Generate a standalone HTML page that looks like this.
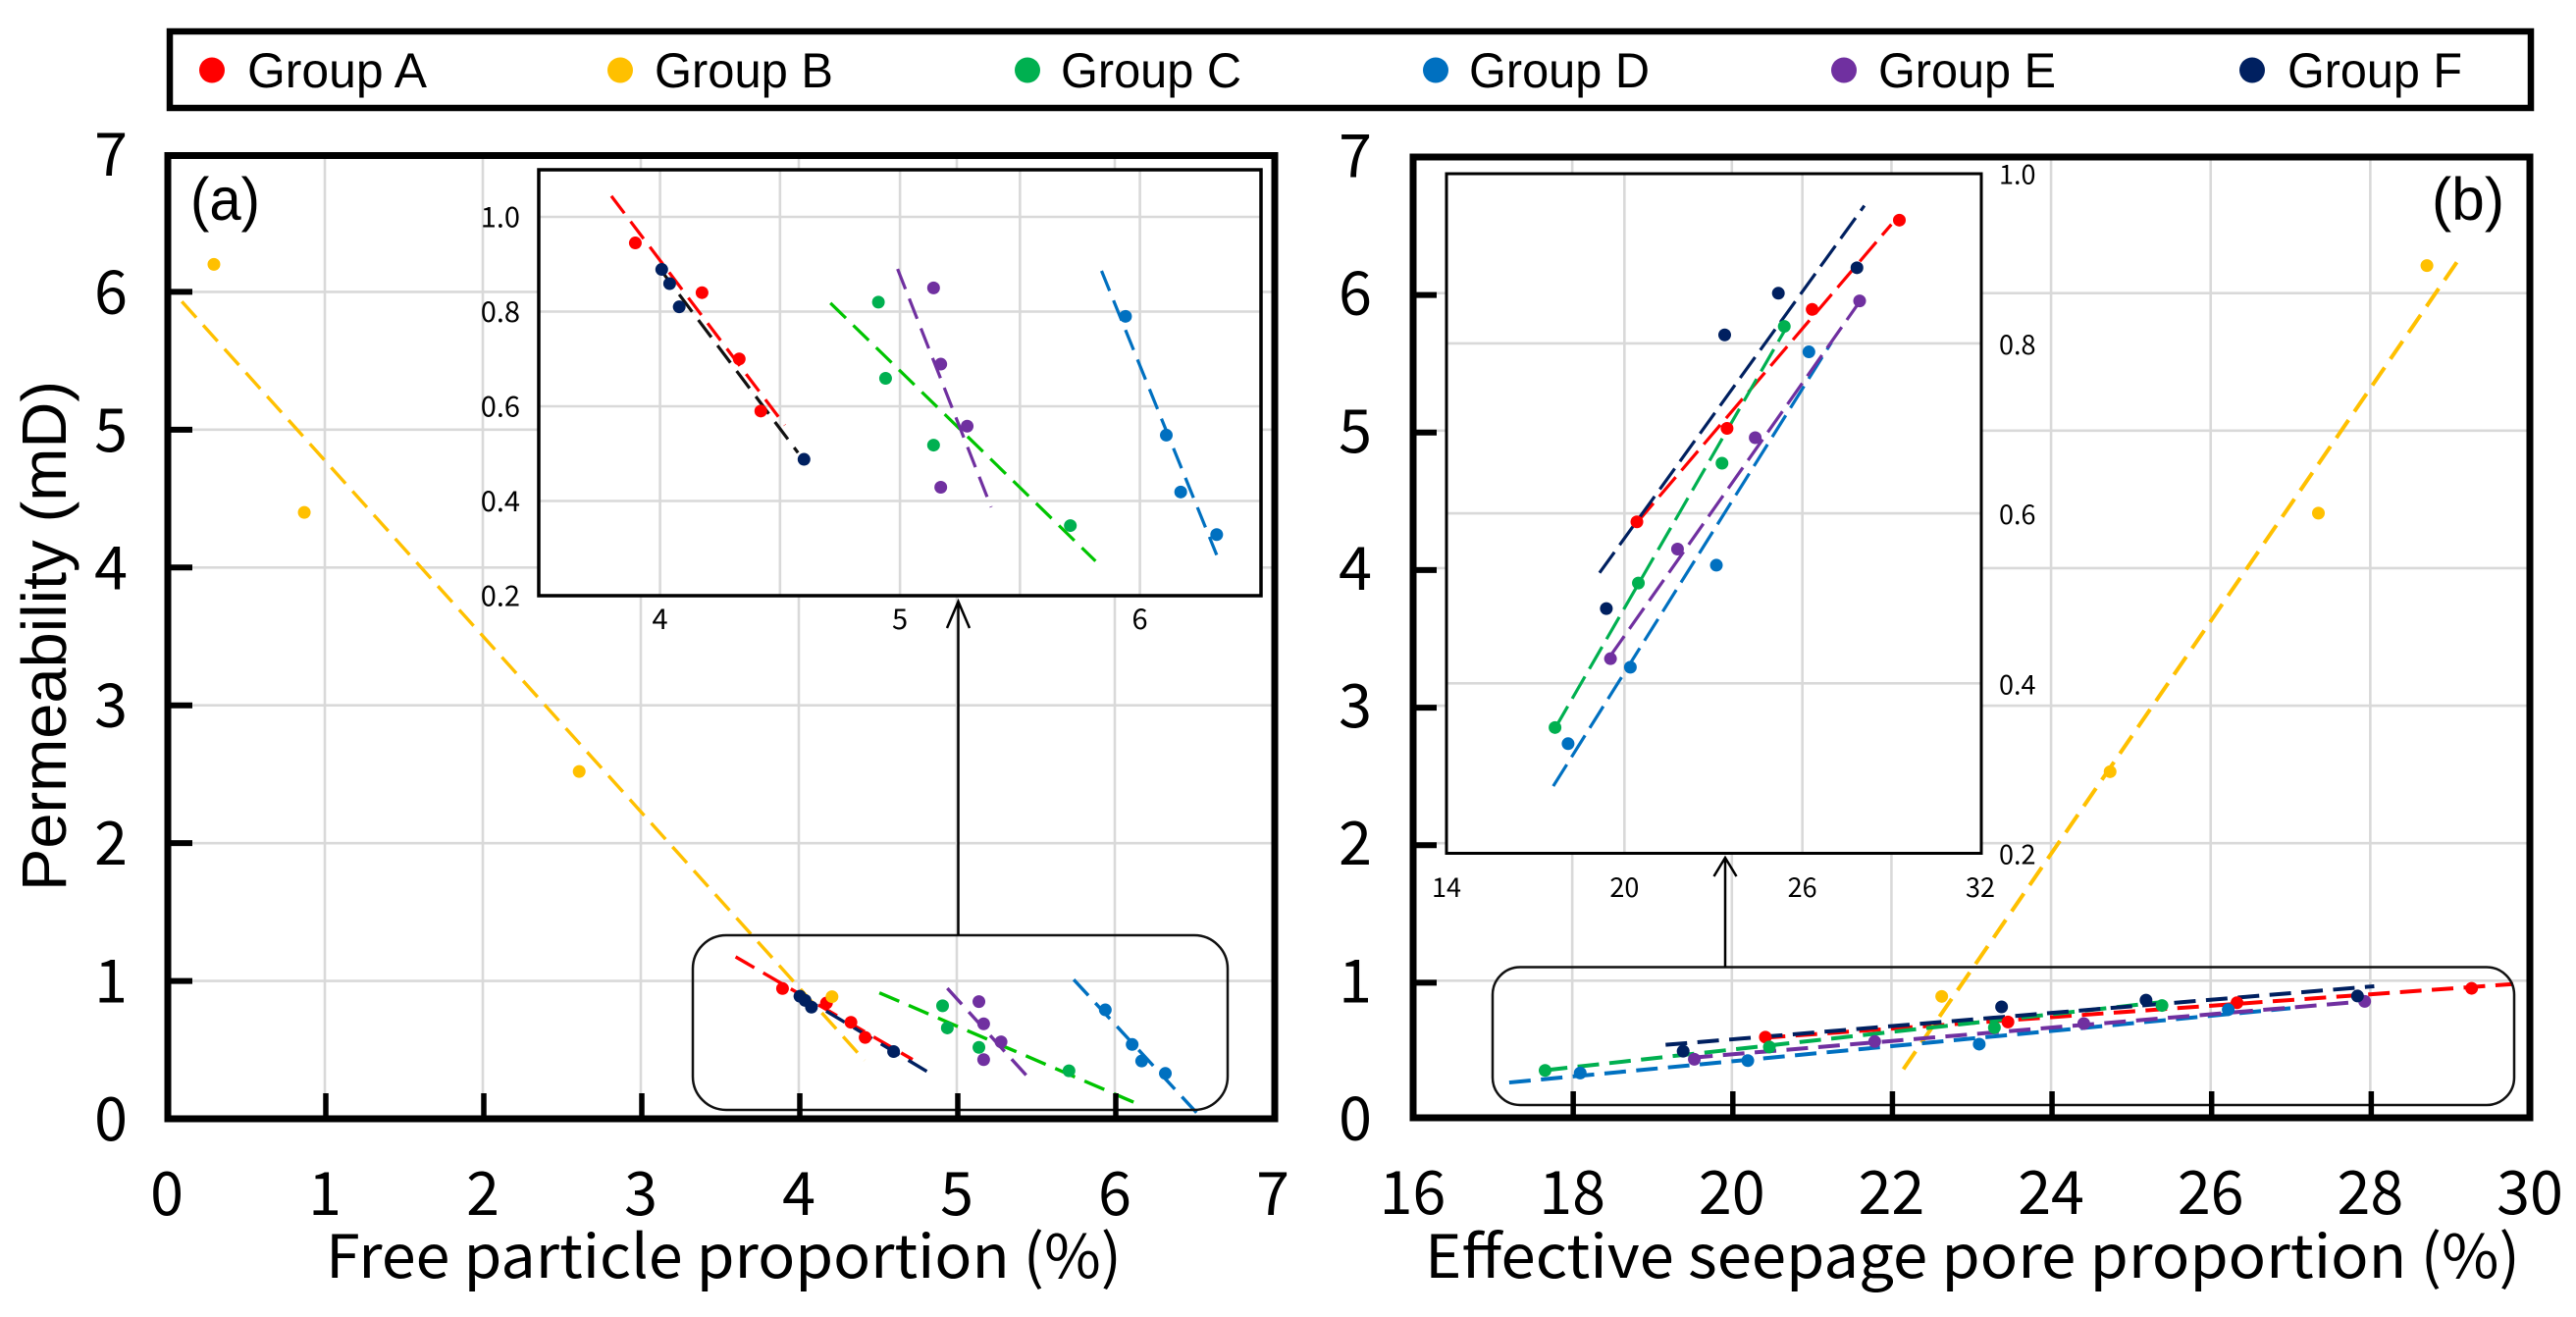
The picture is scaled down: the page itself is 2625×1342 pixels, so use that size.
<!DOCTYPE html>
<html lang="en">
<head>
<meta charset="utf-8">
<title>Permeability vs free particle and effective seepage pore proportion</title>
<style>
html,body{margin:0;padding:0;background:#fff;}
svg{display:block;}
.cjk{font-family:"Liberation Sans","Noto Sans CJK SC",sans-serif;}
.yh{font-family:"Noto Sans CJK SC","Liberation Sans",sans-serif;}
.ar{font-family:"Liberation Sans",sans-serif;}
</style>
</head>
<body>
<svg id="chart" xmlns="http://www.w3.org/2000/svg" width="2625" height="1342" viewBox="0 0 2625 1342">
  <rect x="0" y="0" width="2625" height="1342" fill="#ffffff"/>
  <g id="gridMainA"></g>
  <g id="gridMainB"></g>

  <g id="marksMainA"></g>
  <g id="marksMainB"></g>

  <rect x="706" y="953" width="545" height="178" rx="34" ry="34" fill="none" stroke="#111" stroke-width="2.5"/>
  <rect x="1521" y="985.5" width="1041" height="140.5" rx="28" ry="28" fill="none" stroke="#111" stroke-width="2.5"/>

  <g fill="none" stroke="#000" stroke-width="2.5">
    <path d="M976.5 953 V613 M965 640 L976.5 613 L988 640"/>
  </g>
  <g fill="none" stroke="#000" stroke-width="2.5">
    <path d="M1758 985.5 V874 M1746.500 893 L1758 874 L1769.500 893"/>
  </g>

  <!-- inset a -->
  <rect x="549" y="173" width="736" height="434" fill="#ffffff"/>
  <g id="gridInsetA"></g>
  <g id="marksInsetA"></g>
  <rect x="549" y="173" width="736" height="434" fill="none" stroke="#000" stroke-width="3.500"/>

  <!-- inset b -->
  <rect x="1474" y="177" width="545" height="692.500" fill="#ffffff"/>
  <g id="gridInsetB"></g>
  <g id="marksInsetB"></g>
  <rect x="1474" y="177" width="545" height="692.500" fill="none" stroke="#000" stroke-width="3"/>

  <rect x="171" y="158.500" width="1128" height="981.500" fill="none" stroke="#000" stroke-width="7"/>
  <rect x="1440" y="160" width="1138" height="979" fill="none" stroke="#000" stroke-width="7"/>
  <g id="axesA"></g>
  <g id="axesB"></g>

  <text class="ar" x="194" y="224" font-size="61" textLength="71" lengthAdjust="spacingAndGlyphs" fill="#000">(a)</text>
  <text class="ar" x="2478" y="224" font-size="61" textLength="74" lengthAdjust="spacingAndGlyphs" fill="#000">(b)</text>

  <text class="ar" transform="translate(67,908) rotate(-90)" font-size="64" textLength="520" lengthAdjust="spacingAndGlyphs" fill="#000">Permeability (mD)</text>
  <text class="yh" x="332" y="1302" font-size="61" textLength="811" lengthAdjust="spacingAndGlyphs" fill="#000">Free particle proportion (%)</text>
  <text class="yh" x="1452" y="1302" font-size="61" textLength="1116" lengthAdjust="spacingAndGlyphs" fill="#000">Effective seepage pore proportion (%)</text>

  <g>
    <rect x="173" y="32" width="2406" height="78" fill="#fff" stroke="#000" stroke-width="6.500"/>
    <g><circle cx="216" cy="71.500" r="13" fill="#ff0000"/><text class="ar" x="252" y="89" font-size="50" textLength="183" lengthAdjust="spacingAndGlyphs">Group A</text></g>
    <g><circle cx="632" cy="71.500" r="13" fill="#ffc000"/><text class="ar" x="667" y="89" font-size="50" textLength="182" lengthAdjust="spacingAndGlyphs">Group B</text></g>
    <g><circle cx="1047" cy="71.500" r="13" fill="#00b050"/><text class="ar" x="1081" y="89" font-size="50" textLength="184" lengthAdjust="spacingAndGlyphs">Group C</text></g>
    <g><circle cx="1463" cy="71.500" r="13" fill="#0070c0"/><text class="ar" x="1497" y="89" font-size="50" textLength="184" lengthAdjust="spacingAndGlyphs">Group D</text></g>
    <g><circle cx="1879" cy="71.500" r="13" fill="#7030a0"/><text class="ar" x="1914" y="89" font-size="50" textLength="181" lengthAdjust="spacingAndGlyphs">Group E</text></g>
    <g><circle cx="2295" cy="71.500" r="13" fill="#002060"/><text class="ar" x="2331" y="89" font-size="50" textLength="178" lengthAdjust="spacingAndGlyphs">Group F</text></g>
  </g>
</svg>

<script>
// ---- categories ----
const groupNames = ['A', 'B', 'C', 'D', 'E', 'F'];

// ---- permeability (mD), per group ----
const permA = [0.945, 0.84, 0.70, 0.59];
const permB = [6.2, 4.4, 2.52, 0.886];
const permC = [0.82, 0.659, 0.518, 0.348];
const permD = [0.79, 0.539, 0.419, 0.329];
const permE = [0.85, 0.689, 0.558, 0.429];
const permF = [0.889, 0.859, 0.81, 0.488];

// ---- free particle proportion (%), per group ----
const freeA = [3.897, 4.175, 4.33, 4.42];
const freeB = [0.298, 0.87, 2.61, 4.21];
const freeC = [4.91, 4.94, 5.14, 5.71];
const freeD = [5.94, 6.11, 6.17, 6.32];
const freeE = [5.14, 5.17, 5.28, 5.17];
const freeF = [4.007, 4.04, 4.08, 4.6];

// ---- effective seepage pore proportion (%), per group ----
const seepA = [29.27, 26.33, 23.46, 20.42];
const seepB = [28.71, 27.35, 24.74, 22.63];
const seepC = [25.39, 23.29, 20.47, 17.66];
const seepD = [26.22, 23.1, 20.2, 18.1];
const seepE = [27.93, 24.41, 21.79, 19.53];
const seepF = [27.84, 25.19, 23.38, 19.39];

// ---- fitted trend end values, order A B C D E F ----
const trendFreeX0 = [3.6, 0.095, 4.51, 5.74, 4.94, 4.0];
const trendFreeX1 = [4.72, 4.416, 6.12, 6.525, 5.46, 4.86];
const trendFreeY0 = [1.175, 5.93, 0.914, 1.01, 0.947, 0.9];
const trendFreeY1 = [0.43, 0.424, 0.12, 0.035, 0.29, 0.31];

const trendSeepX0 = [20.4, 22.15, 17.67, 17.21, 19.49, 19.17];
const trendSeepX1 = [29.79, 29.15, 25.39, 27.0, 27.93, 28.05];
const trendSeepY0 = [0.585, 0.357, 0.35, 0.26, 0.44, 0.534];
const trendSeepY1 = [0.976, 6.28, 0.845, 0.8, 0.85, 0.96];

// inset trends (group B is not shown in the insets)
const insetFreeX0 = [3.797, null, 4.71, 5.84, 4.99, 4.0];
const insetFreeX1 = [4.52, null, 5.815, 6.32, 5.38, 4.575];
const insetFreeY0 = [1.044, null, 0.818, 0.886, 0.89, 0.89];
const insetFreeY1 = [0.56, null, 0.273, 0.286, 0.387, 0.502];

const insetSeepX0 = [20.42, null, 17.66, 17.6, 19.5, 19.16];
const insetSeepX1 = [29.0, null, 25.4, 26.98, 27.93, 28.09];
const insetSeepY0 = [0.589, null, 0.347, 0.279, 0.431, 0.53];
const insetSeepY1 = [0.94, null, 0.815, 0.801, 0.849, 0.962];

// ---- tick labels ----
const mainYTicks = [0, 1, 2, 3, 4, 5, 6, 7];
const freeXTicks = [0, 1, 2, 3, 4, 5, 6, 7];
const seepXTicks = [16, 18, 20, 22, 24, 26, 28, 30];
const insetFreeXTicks = [4, 5, 6];
const insetFreeXGrid = [4, 4.5, 5, 5.5, 6];
const insetFreeYTicks = ['0.2', '0.4', '0.6', '0.8', '1.0'];
const insetSeepXTicks = [14, 20, 26, 32];
const insetSeepYTicks = ['0.2', '0.4', '0.6', '0.8', '1.0'];

// ---- styling / helpers ----
const NS = 'http://www.w3.org/2000/svg';
const colors = { A: '#ff0000', B: '#ffc000', C: '#00b050', D: '#0070c0', E: '#7030a0', F: '#002060' };
const permByGroup = { A: permA, B: permB, C: permC, D: permD, E: permE, F: permF };
const freeByGroup = { A: freeA, B: freeB, C: freeC, D: freeD, E: freeE, F: freeF };
const seepByGroup = { A: seepA, B: seepB, C: seepC, D: seepD, E: seepE, F: seepF };

function scale(d0, d1, r0, r1) {
  return function (v) { return r0 + (v - d0) * (r1 - r0) / (d1 - d0); };
}
function node(parent, tag, attrs, text) {
  const el = document.createElementNS(NS, tag);
  for (const k in attrs) el.setAttribute(k, attrs[k]);
  if (text !== undefined) el.textContent = text;
  parent.appendChild(el);
  return el;
}
function drawGrid(parentId, xs, ys, xScale, yScale, box, width) {
  const g = document.getElementById(parentId);
  xs.forEach(function (v) {
    const el = node(g, 'line', { x1: xScale(v), x2: xScale(v), y1: box.top, y2: box.bottom, stroke: '#d9d9d9', 'stroke-width': width });
    
    
  });
  ys.forEach(function (v) {
    const el = node(g, 'line', { x1: box.left, x2: box.right, y1: yScale(v), y2: yScale(v), stroke: '#d9d9d9', 'stroke-width': width });
    
    
  });
}
function drawSeries(parentId, xByGroup, x0, x1, y0, y1, xScale, yScale, opt) {
  const g = document.getElementById(parentId);
  groupNames.forEach(function (name, i) {
    if (x0[i] === null) return;
    let col = colors[name];
    if (name === 'C' && opt.brightGreen) col = '#00c400';
    if (name === 'F' && opt.darkF) col = '#111111';
    const line = node(g, 'line', {
      x1: xScale(x0[i]), y1: yScale(y0[i]), x2: xScale(x1[i]), y2: yScale(y1[i]),
      stroke: col, 'stroke-width': opt.lineWidth, 'stroke-dasharray': opt.dash
    });
    
    
  });
  groupNames.forEach(function (name) {
    if (opt.skipB && name === 'B') return;
    const xs = xByGroup[name];
    const ys = permByGroup[name];
    xs.forEach(function (v, j) {
      const dot = node(g, 'circle', { cx: xScale(v), cy: yScale(ys[j]), r: opt.r, fill: colors[name] });
      
      
    });
  });
}
function label(parent, x, y, text, size, anchor, dataName) {
  const el = node(parent, 'text', { x: x, y: y, 'font-size': size, 'text-anchor': anchor, fill: '#000', class: 'yh' }, text);
  
  
  return el;
}
function drawTick(parent, x1, y1, x2, y2, width) {
  const el = node(parent, 'line', { x1: x1, y1: y1, x2: x2, y2: y2, stroke: '#000', 'stroke-width': width });
  
  
}

// ---- axis functions ----
const xFree = scale(0, 7, 170, 1297);
const yMainA = scale(0, 7, 1140, 157);
const xSeep = scale(16, 30, 1439.5, 2578);
const yMainB = scale(0, 7, 1139.5, 158.5);
const xInsetA = scale(4, 6, 672.6, 1161.6);
const yInsetA = scale(0.2, 1.0, 607, 221);
const xInsetB = scale(14, 32, 1474, 2018);
const yInsetB = scale(0.2, 1.0, 869.5, 176.7);

// ---- grids ----
drawGrid('gridMainA', freeXTicks.slice(1, 7), mainYTicks.slice(1, 7), xFree, yMainA, { left: 171, right: 1299, top: 158, bottom: 1140 }, 2.6);
drawGrid('gridMainB', seepXTicks.slice(1, 7), mainYTicks.slice(1, 7), xSeep, yMainB, { left: 1440, right: 2578, top: 160, bottom: 1139 }, 2.6);
drawGrid('gridInsetA', insetFreeXGrid, insetFreeYTicks.slice(1).map(Number), xInsetA, yInsetA, { left: 549, right: 1285, top: 173, bottom: 607 }, 2.6);
drawGrid('gridInsetB', insetSeepXTicks.slice(1, 3), insetSeepYTicks.slice(1, 4).map(Number), xInsetB, yInsetB, { left: 1474, right: 2019, top: 177, bottom: 869.5 }, 2.6);

// ---- series ----
drawSeries('marksMainA', freeByGroup, trendFreeX0, trendFreeX1, trendFreeY0, trendFreeY1, xFree, yMainA,
  { lineWidth: 3.4, dash: '22 10.5', r: 6.5, brightGreen: true });
drawSeries('marksMainB', seepByGroup, trendSeepX0, trendSeepX1, trendSeepY0, trendSeepY1, xSeep, yMainB,
  { lineWidth: 4, dash: '22 10.5', r: 6.5 });
drawSeries('marksInsetA', freeByGroup, insetFreeX0, insetFreeX1, insetFreeY0, insetFreeY1, xInsetA, yInsetA,
  { lineWidth: 3.2, dash: '22 10.5', r: 6.5, skipB: true, brightGreen: true, darkF: true });
drawSeries('marksInsetB', seepByGroup, insetSeepX0, insetSeepX1, insetSeepY0, insetSeepY1, xInsetB, yInsetB,
  { lineWidth: 3.2, dash: '26 9', r: 6.5, skipB: true });

// ---- axes: panel a ----
const axesA = document.getElementById('axesA');
mainYTicks.forEach(function (v) {
  label(axesA, 113, yMainA(v) + 22, String(v), 61, 'middle', 'panel-a-y-tick-label');
  if (v > 0 && v < 7) drawTick(axesA, 171, yMainA(v), 196, yMainA(v), 6);
});
freeXTicks.forEach(function (v) {
  label(axesA, xFree(v), 1238, String(v), 61, 'middle', 'panel-a-x-tick-label');
  if (v > 0 && v < 7) drawTick(axesA, xFree(v) + 1, 1114, xFree(v) + 1, 1140, 5.5);
});
insetFreeXTicks.forEach(function (v) {
  label(axesA, xInsetA(v), 641, String(v), 29, 'middle', 'panel-a-inset-x-tick-label');
});
insetFreeYTicks.forEach(function (v) {
  label(axesA, 530, yInsetA(Number(v)) + 10.5, v, 29, 'end', 'panel-a-inset-y-tick-label');
});

// ---- axes: panel b ----
const axesB = document.getElementById('axesB');
mainYTicks.forEach(function (v) {
  label(axesB, 1381, yMainB(v) + 22, String(v), 61, 'middle', 'panel-b-y-tick-label');
  if (v > 0 && v < 7) drawTick(axesB, 1440, yMainB(v) + 2, 1464, yMainB(v) + 2, 6);
});
seepXTicks.forEach(function (v) {
  label(axesB, xSeep(v), 1237, String(v), 61, 'middle', 'panel-b-x-tick-label');
  if (v > 16 && v < 30) drawTick(axesB, xSeep(v) + 1, 1112, xSeep(v) + 1, 1139, 5.5);
});
insetSeepXTicks.forEach(function (v) {
  label(axesB, xInsetB(v), 914, String(v), 27, 'middle', 'panel-b-inset-x-tick-label');
});
insetSeepYTicks.forEach(function (v) {
  label(axesB, 2037, yInsetB(Number(v)) + 11, v, 27, 'start', 'panel-b-inset-y-tick-label');
});
</script>
</body>
</html>
